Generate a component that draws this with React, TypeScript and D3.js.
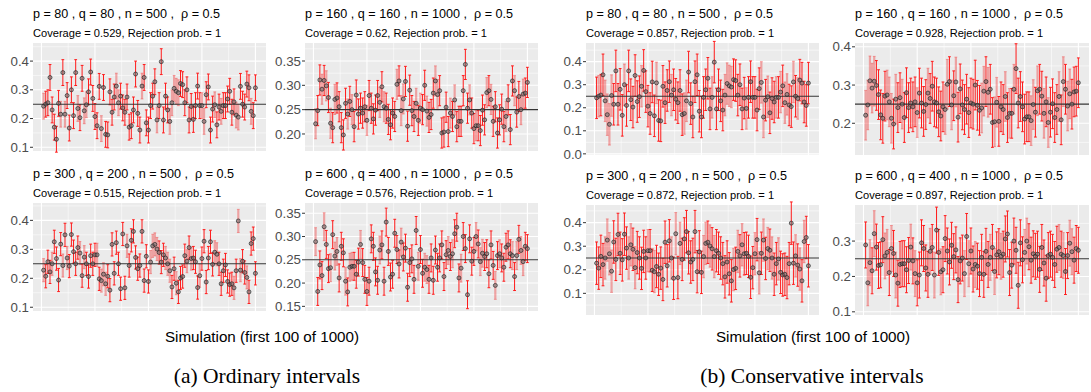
import React from 'react';
import * as d3 from 'd3';

// Point estimates of the first 100 simulations for each setting
const estP80 = [0.243, 0.25, 0.255, 0.343, 0.23, 0.17, 0.128, 0.253, 0.215, 0.36, 0.215, 0.28, 0.167, 0.3, 0.21, 0.36, 0.235, 0.203, 0.34, 0.227, 0.248, 0.293, 0.362, 0.27, 0.207, 0.175, 0.312, 0.165, 0.308, 0.145, 0.143, 0.293, 0.222, 0.275, 0.313, 0.255, 0.278, 0.237, 0.222, 0.275, 0.17, 0.175, 0.23, 0.355, 0.218, 0.16, 0.313, 0.343, 0.185, 0.16, 0.245, 0.278, 0.328, 0.195, 0.245, 0.398, 0.195, 0.278, 0.23, 0.19, 0.255, 0.305, 0.295, 0.29, 0.322, 0.318, 0.255, 0.3, 0.195, 0.242, 0.197, 0.245, 0.313, 0.245, 0.245, 0.19, 0.283, 0.31, 0.16, 0.233, 0.248, 0.178, 0.24, 0.225, 0.245, 0.245, 0.268, 0.295, 0.222, 0.258, 0.212, 0.205, 0.312, 0.25, 0.24, 0.32, 0.307, 0.225, 0.21, 0.307];
const estP160 = [0.221, 0.248, 0.311, 0.292, 0.31, 0.299, 0.275, 0.222, 0.213, 0.271, 0.274, 0.256, 0.213, 0.198, 0.263, 0.241, 0.267, 0.25, 0.215, 0.28, 0.241, 0.253, 0.243, 0.256, 0.228, 0.279, 0.253, 0.231, 0.249, 0.279, 0.265, 0.297, 0.256, 0.253, 0.23, 0.219, 0.243, 0.236, 0.302, 0.309, 0.248, 0.272, 0.308, 0.216, 0.29, 0.248, 0.236, 0.263, 0.228, 0.253, 0.25, 0.3, 0.247, 0.234, 0.24, 0.284, 0.309, 0.281, 0.289, 0.202, 0.204, 0.255, 0.205, 0.243, 0.236, 0.27, 0.215, 0.226, 0.226, 0.289, 0.343, 0.253, 0.27, 0.243, 0.211, 0.217, 0.217, 0.207, 0.249, 0.229, 0.285, 0.289, 0.271, 0.226, 0.256, 0.202, 0.229, 0.251, 0.215, 0.236, 0.27, 0.209, 0.309, 0.289, 0.245, 0.277, 0.25, 0.282, 0.284, 0.306];
const estP300 = [0.228, 0.207, 0.257, 0.222, 0.25, 0.326, 0.268, 0.194, 0.318, 0.244, 0.35, 0.27, 0.242, 0.351, 0.292, 0.25, 0.306, 0.287, 0.209, 0.273, 0.25, 0.206, 0.278, 0.25, 0.281, 0.281, 0.198, 0.192, 0.214, 0.181, 0.207, 0.159, 0.317, 0.217, 0.323, 0.25, 0.164, 0.353, 0.167, 0.312, 0.244, 0.331, 0.362, 0.272, 0.233, 0.244, 0.362, 0.192, 0.276, 0.189, 0.256, 0.312, 0.317, 0.301, 0.289, 0.256, 0.281, 0.27, 0.25, 0.226, 0.17, 0.233, 0.183, 0.153, 0.201, 0.206, 0.278, 0.259, 0.306, 0.268, 0.27, 0.257, 0.168, 0.209, 0.268, 0.328, 0.187, 0.27, 0.326, 0.248, 0.29, 0.283, 0.25, 0.181, 0.226, 0.246, 0.189, 0.178, 0.181, 0.167, 0.226, 0.398, 0.228, 0.259, 0.22, 0.203, 0.153, 0.32, 0.337, 0.217];
const estP600 = [0.289, 0.182, 0.239, 0.216, 0.321, 0.283, 0.231, 0.233, 0.304, 0.258, 0.268, 0.211, 0.279, 0.265, 0.204, 0.181, 0.234, 0.236, 0.236, 0.219, 0.245, 0.283, 0.244, 0.208, 0.182, 0.204, 0.295, 0.279, 0.224, 0.206, 0.271, 0.282, 0.204, 0.331, 0.268, 0.213, 0.219, 0.307, 0.272, 0.241, 0.288, 0.256, 0.275, 0.191, 0.244, 0.252, 0.208, 0.313, 0.236, 0.272, 0.221, 0.234, 0.229, 0.208, 0.254, 0.206, 0.271, 0.234, 0.254, 0.282, 0.214, 0.261, 0.27, 0.257, 0.263, 0.306, 0.32, 0.211, 0.232, 0.3, 0.274, 0.175, 0.295, 0.247, 0.268, 0.3, 0.284, 0.246, 0.264, 0.257, 0.263, 0.22, 0.282, 0.238, 0.195, 0.259, 0.263, 0.254, 0.234, 0.277, 0.282, 0.263, 0.259, 0.214, 0.259, 0.294, 0.27, 0.246, 0.279, 0.274];

// Half-widths of the ordinary and conservative intervals, per setting
const halfOrdinary = [0.045, 0.031, 0.04, 0.03];
const halfConservative = [0.09, 0.065, 0.09, 0.065];

// Settings and summary statistics
const settingTitles = [
  'p = 80 , q = 80 , n = 500 ,  \u03c1 = 0.5',
  'p = 160 , q = 160 , n = 1000 ,  \u03c1 = 0.5',
  'p = 300 , q = 200 , n = 500 ,  \u03c1 = 0.5',
  'p = 600 , q = 400 , n = 1000 ,  \u03c1 = 0.5',
];
const coverageOrdinary = [0.529, 0.62, 0.515, 0.576];
const coverageConservative = [0.857, 0.928, 0.872, 0.897];
const rejectionProb = [1, 1, 1, 1];
const truthLine = 0.25;

// Intervals drawn in the lighter shade
const lightOrdinary = [
  [0, 8, 10, 16, 19, 20, 27, 34, 35, 46, 53, 59, 60, 61, 62, 63, 74, 75, 80, 83, 90, 91, 97],
  [0, 3, 5, 7, 9, 15, 17, 24, 30, 32, 38, 40, 41, 47, 49, 52, 56, 57, 63, 65, 72, 75, 80, 82, 89, 93, 96, 97],
  [0, 4, 9, 11, 17, 19, 25, 27, 28, 29, 39, 50, 51, 52, 53, 57, 58, 59, 62, 67, 69, 73, 80, 81, 89, 91, 92, 95],
  [0, 4, 7, 9, 10, 14, 16, 17, 21, 30, 40, 48, 51, 52, 62, 64, 68, 75, 77, 78, 84, 86, 92, 94, 96, 97],
];
const lightConservative = [
  [1, 4, 5, 6, 7, 13, 21, 28, 35, 41, 42, 54, 60, 61, 62, 63, 70, 77, 78, 80, 84, 86, 88, 89, 92, 94],
  [0, 1, 2, 3, 4, 10, 11, 12, 14, 17, 24, 29, 37, 38, 40, 42, 54, 55, 57, 60, 61, 65, 67, 69, 77, 78, 80, 83, 85, 90, 92, 94, 95],
  [4, 5, 6, 7, 15, 16, 18, 24, 27, 35, 37, 39, 50, 51, 53, 55, 64, 66, 68, 74, 76, 78, 80, 82, 85, 93, 95, 97],
  [1, 2, 4, 9, 10, 12, 14, 21, 23, 30, 32, 35, 46, 48, 51, 58, 60, 63, 74, 75, 90, 92, 95, 96],
];

// Y-axis ticks and ranges per panel
const ticksOrdinary = [
  [0.1, 0.2, 0.3, 0.4],
  [0.2, 0.25, 0.3, 0.35],
  [0.1, 0.2, 0.3, 0.4],
  [0.15, 0.2, 0.25, 0.3, 0.35],
];
const ticksConservative = [
  [0.0, 0.1, 0.2, 0.3, 0.4],
  [0.2, 0.3, 0.4],
  [0.1, 0.2, 0.3, 0.4],
  [0.1, 0.2, 0.3],
];
const rangeOrdinary: [number, number][] = [[0.087, 0.463], [0.165, 0.387], [0.087, 0.46], [0.14, 0.372]];
const rangeConservative: [number, number][] = [[-0.005, 0.481], [0.117, 0.41], [0.008, 0.475], [0.091, 0.402]];

const estimates = [estP80, estP160, estP300, estP600];
const simIds = d3.range(1, 101);

type Box = { l: number; r: number; t: number; b: number };
const boxesOrdinary: Box[] = [
  { l: 33, r: 266, t: 43, b: 151 },
  { l: 305, r: 538, t: 43, b: 151 },
  { l: 33, r: 266, t: 203, b: 311 },
  { l: 305, r: 538, t: 203, b: 311 },
];
const boxesConservative: Box[] = [
  { l: 586, r: 819, t: 43, b: 155 },
  { l: 855, r: 1089, t: 43, b: 155 },
  { l: 586, r: 819, t: 205, b: 315 },
  { l: 855, r: 1089, t: 205, b: 315 },
];

const SANS = "'Liberation Sans', Arial, Helvetica, sans-serif";
const SERIF = "'Liberation Serif', 'Times New Roman', serif";

type PanelProps = {
  box: Box;
  title: string;
  coverage: number;
  reject: number;
  est: number[];
  half: number;
  light: number[];
  ticks: number[];
  yRange: [number, number];
};

function Panel({ box, title, coverage, reject, est, half, light, ticks, yRange }: PanelProps) {
  const x = d3.scaleLinear().domain([1 - 4.95, 100 + 4.95]).range([box.l, box.r]);
  const y = d3.scaleLinear().domain(yRange).range([box.b, box.t]);
  const step = ticks[1] - ticks[0];
  const decimals = Math.round(step * 100) % 10 === 0 ? 1 : 2;
  const fmt = d3.format(`.${decimals}f`);
  const minorY: number[] = [];
  ticks.forEach((t) => minorY.push(t - step / 2));
  minorY.push(ticks[ticks.length - 1] + step / 2);
  const minorYIn = minorY.filter((v) => v > yRange[0] && v < yRange[1]);
  const majorX = [0, 25, 50, 75, 100];
  const minorX = [12.5, 37.5, 62.5, 87.5];
  const lightSet = new Set(light);
  const cap = 1.4;

  return (
    <g>
      <text x={box.l} y={box.t - 25} fontFamily={SANS} fontSize={12.6} fill="#000" style={{ whiteSpace: 'pre' }}>
        {title}
      </text>
      <text x={box.l} y={box.t - 6} fontFamily={SANS} fontSize={11.1} fill="#000">
        {`Coverage = ${coverage}, Rejection prob. = ${reject}`}
      </text>
      <rect x={box.l} y={box.t} width={box.r - box.l} height={box.b - box.t} fill="#EBEBEB" />
      {minorYIn.map((v) => (
        <line key={`my${v}`} x1={box.l} x2={box.r} y1={y(v)} y2={y(v)} stroke="#fff" strokeWidth={0.55} />
      ))}
      {ticks.map((v) => (
        <line key={`My${v}`} x1={box.l} x2={box.r} y1={y(v)} y2={y(v)} stroke="#fff" strokeWidth={1.1} />
      ))}
      {minorX.map((v) => (
        <line key={`mx${v}`} y1={box.t} y2={box.b} x1={x(v)} x2={x(v)} stroke="#fff" strokeWidth={0.55} />
      ))}
      {majorX.map((v) => (
        <line key={`Mx${v}`} y1={box.t} y2={box.b} x1={x(v)} x2={x(v)} stroke="#fff" strokeWidth={1.1} />
      ))}
      {ticks.map((v) => (
        <g key={`t${v}`}>
          <line x1={box.l - 3} x2={box.l} y1={y(v)} y2={y(v)} stroke="#333" strokeWidth={1} />
          <text x={box.l - 4} y={y(v)} dy="0.35em" textAnchor="end" fontFamily={SANS} fontSize={13.3} fill="#4D4D4D">
            {fmt(v)}
          </text>
        </g>
      ))}
      {simIds.map((id, i) => {
        const c = est[i];
        if (c === undefined) return null;
        const lo = y(c - half);
        const hi = y(c + half);
        const cx = x(id);
        const isLight = lightSet.has(i);
        const stroke = isLight ? 'rgba(240,60,60,0.42)' : '#FF1A1A';
        const sw = isLight ? 2.2 : 1;
        return (
          <g key={`e${id}`}>
            <line x1={cx} x2={cx} y1={lo} y2={hi} stroke={stroke} strokeWidth={sw} />
            <line x1={cx - cap} x2={cx + cap} y1={lo} y2={lo} stroke={stroke} strokeWidth={1} />
            <line x1={cx - cap} x2={cx + cap} y1={hi} y2={hi} stroke={stroke} strokeWidth={1} />
          </g>
        );
      })}
      <line x1={box.l} x2={box.r} y1={y(truthLine)} y2={y(truthLine)} stroke="#333" strokeWidth={1.1} />
      {simIds.map((id, i) => {
        const c = est[i];
        if (c === undefined) return null;
        return (
          <circle key={`p${id}`} cx={x(id)} cy={y(c)} r={2} fill="rgba(110,110,110,0.55)" stroke="rgba(30,30,30,0.8)" strokeWidth={0.8} />
        );
      })}
    </g>
  );
}

export default function App() {
  return (
    <svg
      width={1091}
      height={392}
      viewBox="0 0 1091 392"
      style={{ position: 'absolute', left: 0, top: 0, background: '#fff', display: 'block' }}
    >
      <rect x={0} y={0} width={1091} height={392} fill="#fff" />
      {estimates.map((est, k) => (
        <Panel
          key={`a${k}`}
          box={boxesOrdinary[k]}
          title={settingTitles[k]}
          coverage={coverageOrdinary[k]}
          reject={rejectionProb[k]}
          est={est}
          half={halfOrdinary[k]}
          light={lightOrdinary[k]}
          ticks={ticksOrdinary[k]}
          yRange={rangeOrdinary[k]}
        />
      ))}
      {estimates.map((est, k) => (
        <Panel
          key={`b${k}`}
          box={boxesConservative[k]}
          title={settingTitles[k]}
          coverage={coverageConservative[k]}
          reject={rejectionProb[k]}
          est={est}
          half={halfConservative[k]}
          light={lightConservative[k]}
          ticks={ticksConservative[k]}
          yRange={rangeConservative[k]}
        />
      ))}
      <text x={262} y={342} textAnchor="middle" fontFamily={SANS} fontSize={15.2} fill="#000">
        Simulation (first 100 of 1000)
      </text>
      <text x={813} y={342} textAnchor="middle" fontFamily={SANS} fontSize={15.2} fill="#000">
        Simulation (first 100 of 1000)
      </text>
      <text x={267} y={383} textAnchor="middle" fontFamily={SERIF} fontSize={21.5} fill="#000">
        (a) Ordinary intervals
      </text>
      <text x={812} y={383} textAnchor="middle" fontFamily={SERIF} fontSize={21.5} fill="#000">
        (b) Conservative intervals
      </text>
    </svg>
  );
}
